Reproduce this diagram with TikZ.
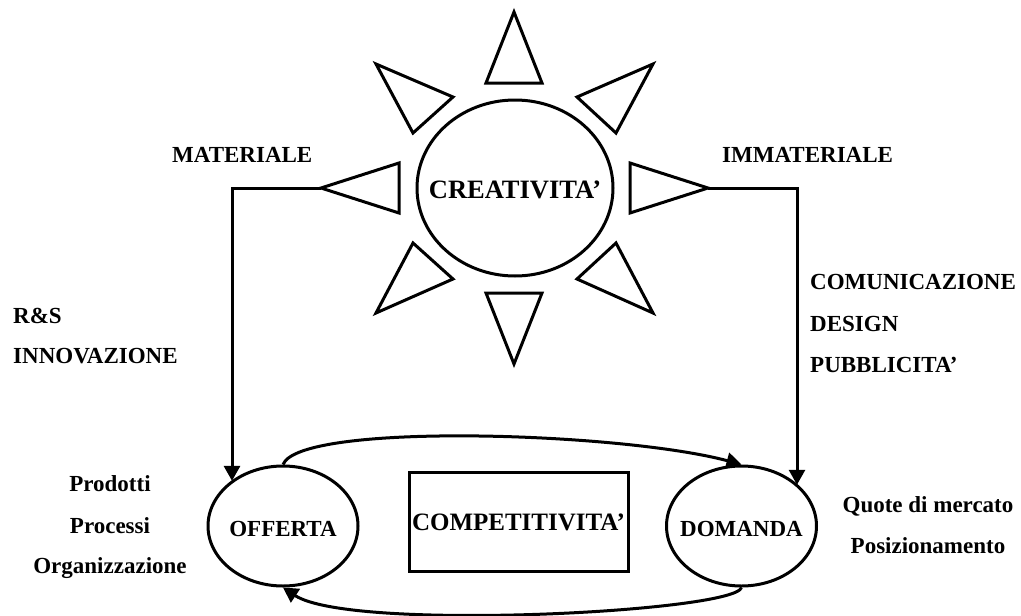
\documentclass[tikz,border=0pt]{standalone}
\usepackage{fontspec}
\setmainfont{Liberation Serif}
\usetikzlibrary{arrows.meta,shapes.geometric}
\begin{document}
\begin{tikzpicture}[x=1pt,y=-1pt,
  lw/.style={line width=3pt},
  ray/.style={lw, line join=miter},
  lab/.style={font=\fontsize{23}{26}\selectfont\bfseries, inner sep=0pt},
  oval/.style={ellipse, draw, lw, inner xsep=-25pt, inner ysep=0pt, text height=22pt},
  arr/.style={lw, -{Triangle[length=15pt,width=16pt]}}
]
\useasboundingbox (0,0) rectangle (1021,616);

% sun
\node[oval, minimum width=196pt, minimum height=176pt, font=\fontsize{26.5}{30}\selectfont\bfseries] (cre) at (515,188) {CREATIVITA’};
\draw[ray] (486,83) -- (542,83) -- (514,12) -- cycle;
\draw[ray] (486,293) -- (542,293) -- (514,364) -- cycle;
\coordinate (lt) at (321,188);
\coordinate (rt) at (708,188);
\draw[ray] (399,163) -- (399,213) -- (lt) -- cycle;
\draw[ray] (630,163) -- (630,213) -- (rt) -- cycle;
\draw[ray] (376,64) -- (453,97) -- (413,133) -- cycle;
\draw[ray] (653,64) -- (577,97) -- (616,133) -- cycle;
\draw[ray] (413,243) -- (453,279) -- (376,313) -- cycle;
\draw[ray] (616,243) -- (577,279) -- (653,313) -- cycle;

% bottom nodes
\node[oval, minimum width=150pt, minimum height=120pt, font=\fontsize{23}{26}\selectfont\bfseries] (off) at (283,526) {OFFERTA};
\node[oval, minimum width=150pt, minimum height=120pt, font=\fontsize{23}{26}\selectfont\bfseries] (dom) at (741.5,526) {DOMANDA};
\node[draw, lw, minimum width=219pt, minimum height=99pt, inner sep=0pt, text height=19pt, font=\fontsize{25}{28}\selectfont\bfseries] (comp) at (518.5,521.5) {COMPETITIVITA’};

% connectors
\coordinate (lc) at (232,188);
\coordinate (rc) at (797,188);
\draw[arr] (lt) -- (lc) -- (lc |- off.139);
\draw[arr] (rt) -- (rc) -- (rc |- dom.36);
\draw[arr] (off.north) .. controls (300,422) and (620,432) .. (dom.north);
\draw[arr] (dom.south) .. controls (735,612) and (350,632) .. (off.south);

% labels
\node[lab, anchor=base west] (mat) at (172,162) {MATERIALE};
\node[lab, anchor=base west] (imm) at (722,162) {IMMATERIALE};
\node[lab, anchor=base west] (rs) at (13,323) {R\&S};
\node[lab, anchor=base west] (inn) at (13,363) {INNOVAZIONE};
\node[lab, anchor=base west] (com) at (810,289) {COMUNICAZIONE};
\node[lab, anchor=base west] (des) at (810,331) {DESIGN};
\node[lab, anchor=base west] (pub) at (810,372) {PUBBLICITA’};
\node[lab, anchor=base] (prod) at (110,491) {Prodotti};
\node[lab, anchor=base] (proc) at (110,533) {Processi};
\node[lab, anchor=base] (org) at (110,573) {Organizzazione};
\node[lab, anchor=base] (quo) at (928,512) {Quote di mercato};
\node[lab, anchor=base] (pos) at (928,553) {Posizionamento};
\end{tikzpicture}
\end{document}
